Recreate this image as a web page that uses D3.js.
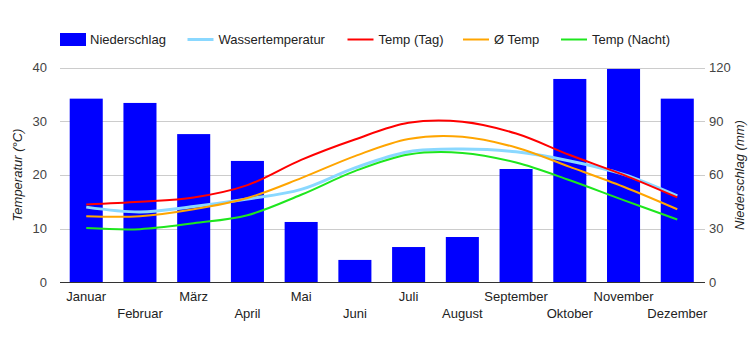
<!DOCTYPE html>
<html><head><meta charset="utf-8">
<script src="https://cdn.jsdelivr.net/npm/d3@7"></script>
<style>body{margin:0;background:#fff}svg{display:block;font-family:"Liberation Sans",Arial,sans-serif}</style>
</head><body><svg id="c" width="750" height="350"></svg>
<script>
const months = ["Januar","Februar","März","April","Mai","Juni","Juli","August","September","Oktober","November","Dezember"];
const niederschlag = [102.6,100.2,82.8,67.8,33.7,12.5,19.7,25.3,63.3,113.6,119.2,102.6];
const wassertemp = [14.0,13.1,14.1,15.5,17.3,21.3,24.3,24.8,24.3,22.6,20.1,16.1];
const tempTag = [14.5,15.0,15.8,18.1,22.8,26.6,29.7,29.9,27.7,23.7,20.0,15.8];
const tempAvg = [12.3,12.3,13.6,15.7,19.4,23.5,26.7,27.1,25.1,21.5,17.8,13.6];
const tempNacht = [10.1,9.9,11.0,12.5,16.3,20.7,23.8,24.1,22.3,19.0,15.3,11.7];
const tempTicks = [0,10,20,30,40];
const precTicks = [0,30,60,90,120];

const svg = d3.select("#c");
const L = 60, R = 704, T = 67.5, B = 282.3;
const x = d3.scaleBand().domain(months).range([L - 0.5, R]).paddingInner(0.385).paddingOuter(0.19);
const yT = d3.scaleLinear().domain([0,40]).range([B,T]);
const yP = d3.scaleLinear().domain([0,120]).range([B,T]);
const cx = m => x(m) + x.bandwidth()/2;

// gridlines
svg.append("g").selectAll("line").data(tempTicks.slice(1)).join("line")
  .attr("x1", L).attr("x2", 705).attr("y1", d => Math.round(yT(d))+0.5).attr("y2", d => Math.round(yT(d))+0.5)
  .attr("stroke", "#cccccc").attr("stroke-width", 1);

// left axis labels
svg.append("g").selectAll("text").data(tempTicks).join("text")
  .attr("x", 47).attr("y", d => yT(d)).attr("dy", "0.35em").attr("text-anchor","end")
  .attr("font-size", 13).attr("fill", "#444").text(d => d);
// right axis labels
svg.append("g").selectAll("text").data(precTicks).join("text")
  .attr("x", 709).attr("y", d => yP(d)).attr("dy", "0.35em").attr("text-anchor","start")
  .attr("font-size", 13).attr("fill", "#444").text(d => d);

// bars
svg.append("g").selectAll("rect").data(months).join("rect")
  .attr("x", d => x(d)).attr("width", x.bandwidth())
  .attr("y", (d,i) => yP(niederschlag[i])).attr("height", (d,i) => B - yP(niederschlag[i]))
  .attr("fill", "#0000ff");

// baseline
svg.append("line").attr("x1", L).attr("x2", 705).attr("y1", 282.5).attr("y2", 282.5)
  .attr("stroke", "#333").attr("stroke-width", 1);

// lines
const series = [
  {name:"Wassertemperatur", vals:wassertemp, color:"#8ad8ff", w:3},
  {name:"Temp (Tag)", vals:tempTag, color:"#ff0000", w:2},
  {name:"Ø Temp", vals:tempAvg, color:"#ffa500", w:2},
  {name:"Temp (Nacht)", vals:tempNacht, color:"#1ee61e", w:2}
];
const line = d3.line().x((d,i) => cx(months[i])).y(d => yT(d)).curve(d3.curveCatmullRom.alpha(0.5));
series.forEach(s => {
  svg.append("path").attr("d", line(s.vals)).attr("fill","none")
    .attr("stroke", s.color).attr("stroke-width", s.w).attr("stroke-linejoin","round");
});

// x labels
svg.append("g").selectAll("text").data(months).join("text")
  .attr("x", d => cx(d)).attr("y", (d,i) => i % 2 === 0 ? 301 : 318)
  .attr("text-anchor","middle").attr("font-size", 13).attr("fill", "#222").text(d => d);

// axis titles
svg.append("text").attr("transform", "translate(22,175) rotate(-90)").attr("text-anchor","middle")
  .attr("font-size", 13).attr("font-style","italic").attr("fill","#222").text("Temperatur (°C)");
svg.append("text").attr("transform", "translate(744,175) rotate(-90)").attr("text-anchor","middle")
  .attr("font-size", 13).attr("font-style","italic").attr("fill","#222").text("Niederschlag (mm)");

// legend
const lg = svg.append("g");
lg.append("rect").attr("x", 60).attr("y", 33).attr("width", 26).attr("height", 13).attr("fill", "#0000ff");
lg.append("text").attr("x", 90).attr("y", 44).attr("font-size", 13).attr("fill","#222").text("Niederschlag");
const legX = [187.5, 347.5, 463, 561];
series.forEach((s,i) => {
  lg.append("line").attr("x1", legX[i]).attr("x2", legX[i]+26).attr("y1", 39.5).attr("y2", 39.5)
    .attr("stroke", s.color).attr("stroke-width", s.w);
  lg.append("text").attr("x", legX[i]+31).attr("y", 44).attr("font-size", 13).attr("fill","#222").text(s.name);
});
</script></body></html>
